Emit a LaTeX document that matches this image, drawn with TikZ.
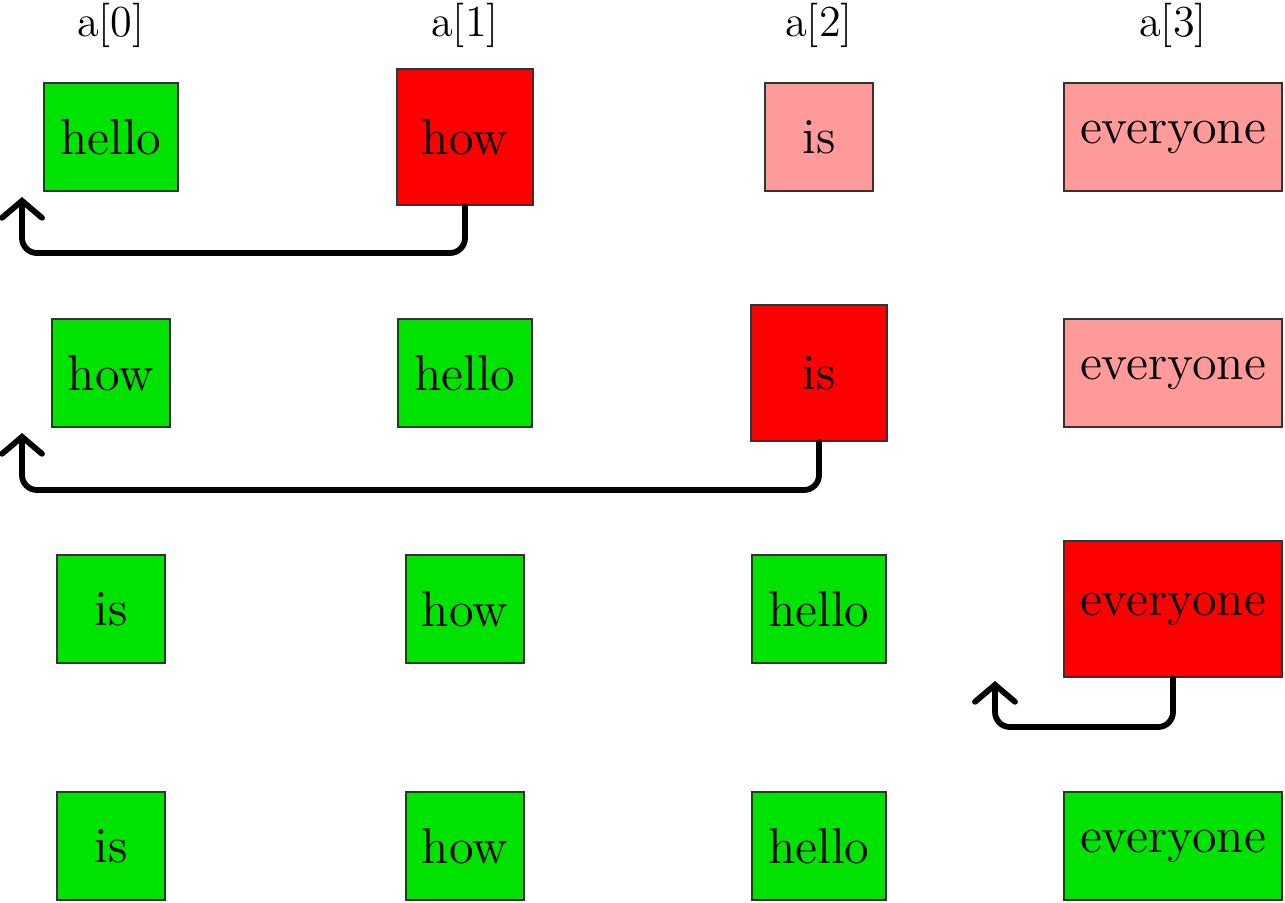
\documentclass[tikz,border=0pt]{standalone}
\usepackage{xcolor}
\usepackage{tikz}
\usetikzlibrary{arrows.meta}
\definecolor{cgreen}{HTML}{00E300}
\definecolor{cpink}{HTML}{FF9A9A}
\definecolor{cred}{HTML}{FF0000}
\tikzset{
	cell/.style={draw=black!80, line width=0.6pt, minimum size=1.08cm, inner xsep=0.16cm, font=\fontsize{14.3}{16}\selectfont},
	done/.style={cell, fill=cgreen},
	wait/.style={cell, fill=cpink},
	pick/.style={cell, fill=cred, minimum size=1.36cm},
	head/.style={anchor=base, font=\fontsize{12.6}{15}\selectfont},
	moveback/.style={line width=0.58mm, rounded corners=0.15cm, line cap=round, -{Straight Barb[length=0.17cm, width=0.40cm, line cap=round]}}
}

\begin{document}
\begin{tikzpicture}
		\useasboundingbox (0,0) rectangle (12.85,-9.02);
		% index labels
		\foreach \i/\x in {0/1.11, 1/4.65, 2/8.19, 3/11.73}
			\node[head] (h\i) at (\x,-0.36) {a[\i]};
		% step 1
		\node[done] (r0c0) at (1.11,-1.37) {hello};
		\node[pick] (r0c1) at (4.65,-1.37) {how};
		\node[wait] (r0c2) at (8.19,-1.37) {is};
		\node[wait] (r0c3) at (11.73,-1.37) {everyone};
		% step 2
		\node[done] (r1c0) at (1.11,-3.73) {how};
		\node[done] (r1c1) at (4.65,-3.73) {hello};
		\node[pick] (r1c2) at (8.19,-3.73) {is};
		\node[wait] (r1c3) at (11.73,-3.73) {everyone};
		% step 3
		\node[done] (r2c0) at (1.11,-6.09) {is};
		\node[done] (r2c1) at (4.65,-6.09) {how};
		\node[done] (r2c2) at (8.19,-6.09) {hello};
		\node[pick] (r2c3) at (11.73,-6.09) {everyone};
		% result
		\node[done] (r3c0) at (1.11,-8.46) {is};
		\node[done] (r3c1) at (4.65,-8.46) {how};
		\node[done] (r3c2) at (8.19,-8.46) {hello};
		\node[done] (r3c3) at (11.73,-8.46) {everyone};
		% moves
		\coordinate (k0) at (0.22,-2.53);
		\coordinate (t0) at (0.22,-1.97);
		\coordinate (k1) at (0.22,-4.90);
		\coordinate (t1) at (0.22,-4.33);
		\coordinate (k2) at (9.95,-7.27);
		\coordinate (t2) at (9.95,-6.81);
		\draw[moveback] (r0c1.south) |- (k0) -- (t0);
		\draw[moveback] (r1c2.south) |- (k1) -- (t1);
		\draw[moveback] (r2c3.south) |- (k2) -- (t2);
\end{tikzpicture}
\end{document}
